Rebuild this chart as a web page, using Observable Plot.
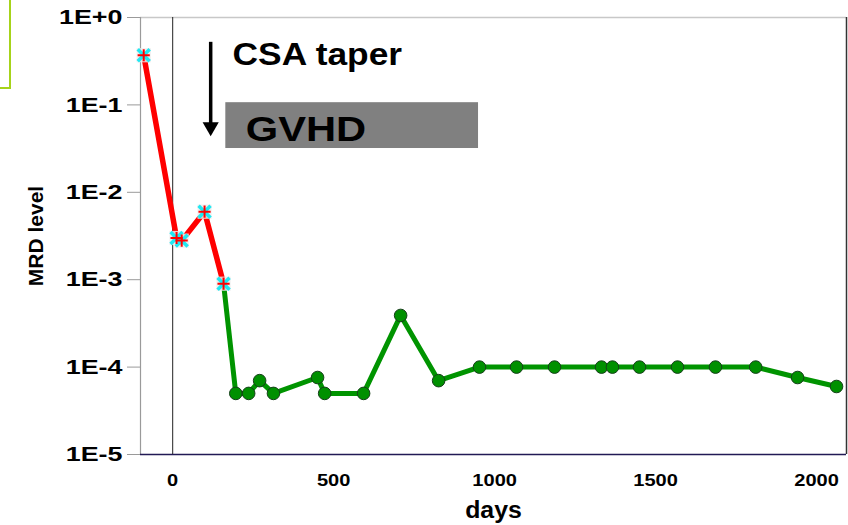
<!DOCTYPE html>
<html><head><meta charset="utf-8">
<script src="https://cdn.jsdelivr.net/npm/d3@7"></script>
<script src="https://cdn.jsdelivr.net/npm/@observablehq/plot@0.6"></script>
<style>
body{margin:0;background:#fff;}
#wrap{position:relative;width:848px;height:525px;overflow:hidden;}
#corner{position:absolute;left:0;top:0;width:9px;height:87px;border-right:2px solid #a6d31a;border-bottom:2px solid #a6d31a;}
#wrap svg{position:absolute;left:0;top:0;}
</style></head><body>
<div id="wrap"><div id="corner"></div></div>
<script>
// Data
const redDays = [-90, 12, 28, 99, 158];
const redMRD  = [0.37, 0.003, 0.0028, 0.006, 0.0009];
const greenDays = [158, 196, 236, 270, 313, 450, 472, 593, 708, 826, 953, 1068, 1186, 1332, 1366, 1450, 1568, 1686, 1811, 1941, 2062];
const greenMRD  = [0.0009, 5e-5, 5e-5, 7e-5, 5e-5, 7.6e-5, 5e-5, 5e-5, 3.9e-4, 7e-5, 1e-4, 1e-4, 1e-4, 1e-4, 1e-4, 1e-4, 1e-4, 1e-4, 1e-4, 7.6e-5, 6e-5];
const yTicks = [1, 1e-1, 1e-2, 1e-3, 1e-4, 1e-5];
const yTickLabels = ["1E+0", "1E-1", "1E-2", "1E-3", "1E-4", "1E-5"];
const xTicks = [0, 500, 1000, 1500, 2000];
const xDomain = [-100, 2093];
const yDomain = [1e-5, 1];
// Annotations (data units)
const arrowDay = 118, arrowTop = 0.52, arrowTip = 0.056;
const gvhdStart = 165, gvhdEnd = 950, gvhdTop = 0.106, gvhdBottom = 0.0317;
const noteText = ["CSA taper", "GVHD"];
const noteDay = [186, 227];
const noteMRD = [0.375, 0.052];

const red = redDays.map((d, i) => ({day: d, mrd: redMRD[i]}));
const green = greenDays.map((d, i) => ({day: d, mrd: greenMRD[i]}));
const greenDots = green.slice(1);
const fmtY = d => yTickLabels[yTicks.findIndex(t => Math.abs(Math.log10(t) - Math.log10(d)) < 1e-6)];

const chart = Plot.plot({
  width: 848, height: 525,
  marginLeft: 140, marginRight: 2, marginTop: 17, marginBottom: 71,
  style: {fontFamily: "'Liberation Sans', Arial, sans-serif", background: "transparent", color: "black"},
  x: {domain: xDomain},
  y: {type: "log", domain: yDomain},
  marks: [
    Plot.axisX({ticks: xTicks, tickSize: 0, tickPadding: 19, fontSize: 17, fontWeight: "bold", label: null, tickFormat: d => String(d)}),
    Plot.axisY({ticks: yTicks, tickSize: 13, tickPadding: 5, stroke: "#9a9a9a", fontSize: 21, fontWeight: "bold", label: null, tickFormat: fmtY}),
    Plot.ruleY([yDomain[1]], {stroke: "#c8c8c8", strokeWidth: 1.5}),
    Plot.ruleX([xDomain[0]], {stroke: "#9a9a9a", strokeWidth: 1.2}),
    Plot.ruleX([xDomain[1]], {stroke: "#333", strokeWidth: 1.5}),
    Plot.ruleY([yDomain[0]], {stroke: "#221a55", strokeWidth: 1.5}),
    Plot.ruleX([0], {stroke: "#222", strokeWidth: 1}),
    Plot.rect([0], {x1: gvhdStart, x2: gvhdEnd, y1: gvhdTop, y2: gvhdBottom, fill: "#808080"}),
    Plot.ruleX([arrowDay], {y1: arrowTop, y2: arrowTip, stroke: "black", strokeWidth: 3.5}),
    Plot.dot([0], {x: arrowDay, y: arrowTip, symbol: "triangle", rotate: 180, r: 6, fill: "black"}),
    Plot.text(noteText, {x: (d, i) => noteDay[i], y: (d, i) => noteMRD[i], text: d => d, textAnchor: "start", fontSize: (d, i) => i === 0 ? 31 : 35, fontWeight: "bold", fill: "black"}),
    Plot.line(green, {x: "day", y: "mrd", stroke: "#009400", strokeWidth: 5}),
    Plot.dot(greenDots, {x: "day", y: "mrd", r: 6.3, fill: "#009000", stroke: "#16401a", strokeWidth: 1}),
    Plot.line(red, {x: "day", y: "mrd", stroke: "#ff0000", strokeWidth: 5.5}),
    Plot.dot(red, {x: "day", y: "mrd", symbol: "square", r: 8, fill: "#ececec", fillOpacity: 0.85}),
    Plot.dot(red, {x: "day", y: "mrd", symbol: "times", r: 5.5, stroke: "#20e8f2", strokeWidth: 3.5}),
    Plot.dot(red, {x: "day", y: "mrd", symbol: "plus", r: 4, stroke: "#ff0000", strokeWidth: 2}),
    Plot.text(["MRD level"], {frameAnchor: "left", dx: -104, rotate: -90, textAnchor: "middle", lineAnchor: "middle", fontSize: 21, fontWeight: "bold", fill: "black"}),
    Plot.text(["days"], {frameAnchor: "bottom", dy: 56, textAnchor: "middle", lineAnchor: "middle", fontSize: 23, fontWeight: "bold", fill: "black"})
  ]
});
document.getElementById("wrap").appendChild(chart);

function stretch(nodes, f) {
  nodes.each(function() {
    const w = this.getComputedTextLength();
    this.setAttribute("textLength", w * f);
    this.setAttribute("lengthAdjust", "spacingAndGlyphs");
  });
}
const s = d3.select(chart);
stretch(s.selectAll('g[aria-label="y-axis tick label"] text'), 1.28);
stretch(s.selectAll('g[aria-label="x-axis tick label"] text'), 1.18);
stretch(s.selectAll('text').filter(function() { return this.textContent === "CSA taper"; }), 1.14);
stretch(s.selectAll('text').filter(function() { return this.textContent === "GVHD"; }), 1.19);
stretch(s.selectAll('text').filter(function() { return this.textContent === "days"; }), 1.08);
</script>
</body></html>
